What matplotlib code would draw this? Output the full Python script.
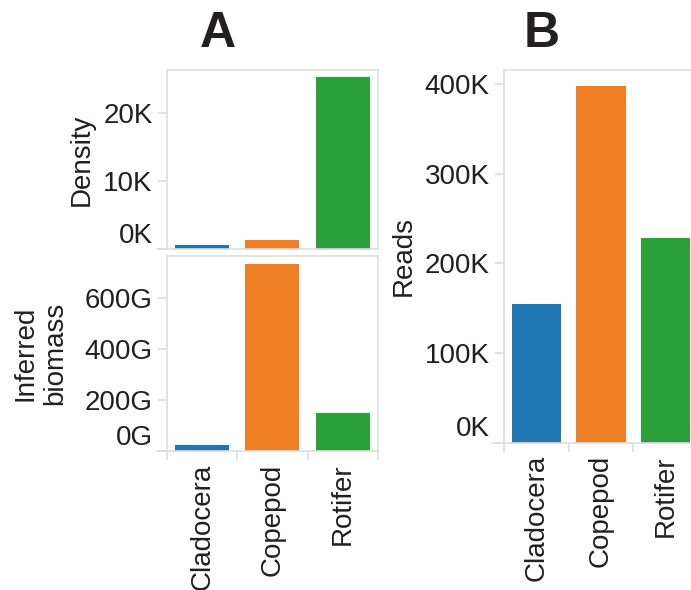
import matplotlib.pyplot as plt
from matplotlib.ticker import FuncFormatter, FixedLocator

plt.rcParams['font.family'] = ['Liberation Sans', 'DejaVu Sans']

# Data
categories = ["Cladocera", "Copepod", "Rotifer"]
density = [520, 1330, 25300]
biomass = [24e9, 733e9, 150e9]
reads = [155000, 398000, 228000]
colors = ["#1f77b4", "#ef7f24", "#2ca03a"]

density_ticks = [0, 10000, 20000]
biomass_ticks = [0, 200e9, 400e9, 600e9]
reads_ticks = [0, 100000, 200000, 300000, 400000]

GRID = "#dddddd"
TXT = "#231f20"
FS = 20

fig = plt.figure(figsize=(6.91, 5.90), dpi=100)

ax1 = fig.add_axes([0.2421, 0.578, 0.3045, 0.3034])
ax2 = fig.add_axes([0.2421, 0.2356, 0.3045, 0.3297])
ax3 = fig.add_axes([0.7298, 0.25, 0.28, 0.6314])


def style(ax, values, ymax, ticks, unit, div, show_x, ext):
    x = range(len(categories))
    ax.bar(x, values, width=0.77, color=colors, zorder=2)
    ax.set_xlim(-0.5, len(categories) - 0.5)
    ax.set_ylim(0, ymax)
    for s in ax.spines.values():
        s.set_color(GRID)
        s.set_linewidth(1.2)
    ax.spines["bottom"].set_bounds(-0.5 - ext, len(categories) - 0.5)
    ax.yaxis.set_major_locator(FixedLocator(ticks))
    ax.yaxis.set_major_formatter(FuncFormatter(lambda v, p: f"{v / div:.0f}{unit}"))
    ax.tick_params(axis="y", length=6.5, width=1.2, color=GRID, pad=4,
                   labelsize=FS, labelcolor=TXT)
    ax.yaxis.get_major_ticks()[0].label1.set_va("bottom")
    if show_x:
        ax.set_xticks(list(x))
        ax.set_xticklabels(categories, rotation=90, fontsize=FS, color=TXT)
        ax.xaxis.set_minor_locator(FixedLocator([i - 0.5 for i in range(len(categories) + 1)]))
        ax.tick_params(axis="x", which="major", length=0, pad=9)
        ax.tick_params(axis="x", which="minor", length=6.5, width=1.2, color=GRID)
    else:
        ax.set_xticks([])


style(ax1, density, 26400, density_ticks, "K", 1e3, False, 0.15)
style(ax2, biomass, 764e9, biomass_ticks, "G", 1e9, True, 0.15)
style(ax3, reads, 416000, reads_ticks, "K", 1e3, True, 0.17)

ax1.set_ylabel("Density", fontsize=FS, color=TXT, labelpad=6)
ax2.set_ylabel("Inferred\nbiomass", fontsize=FS, color=TXT, labelpad=12, linespacing=1.15)
ax3.set_ylabel("Reads", fontsize=FS, color=TXT, labelpad=6)

fig.text(218 / 691, 1 - 47 / 590, "A", fontsize=36, fontweight="bold",
         color=TXT, ha="center", va="baseline")
fig.text(541.7 / 691, 1 - 47 / 590, "B", fontsize=36, fontweight="bold",
         color=TXT, ha="center", va="baseline")

plt.savefig("out.png", dpi=100)
